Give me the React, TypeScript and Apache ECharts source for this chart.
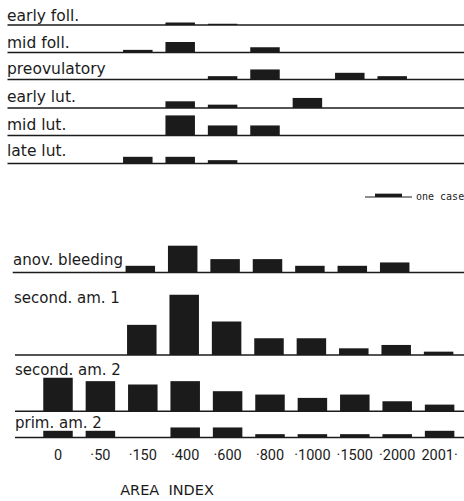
import { useEffect, useRef } from 'react';
import * as echarts from 'echarts';

// ---------- data ----------
const categories = ['0', '·50', '·150', '·400', '·600', '·800', '·1000', '·1500', '·2000', '2001·'];

const earlyFoll = [0, 0, 0, 2, 1, 0, 0, 0, 0, 0];
const midFoll = [0, 0, 1, 4, 0, 2, 0, 0, 0, 0];
const preovulatory = [0, 0, 0, 0, 1, 3, 0, 2, 1, 0];
const earlyLut = [0, 0, 0, 2, 1, 0, 3, 0, 0, 0];
const midLut = [0, 0, 0, 6, 3, 3, 0, 0, 0, 0];
const lateLut = [0, 0, 2, 2, 1, 0, 0, 0, 0, 0];
const anovBleeding = [0, 0, 2, 8, 4, 4, 2, 2, 3, 0];
const secondAm1 = [0, 0, 9, 18, 10, 5, 5, 2, 3, 1];
const secondAm2 = [10, 9, 8, 9, 6, 5, 4, 5, 3, 2];
const primAm2 = [2, 2, 0, 3, 3, 1, 1, 1, 1, 2];

const panelNames = [
  'early foll.', 'mid foll.', 'preovulatory', 'early lut.', 'mid lut.', 'late lut.',
  'anov. bleeding', 'second. am. 1', 'second. am. 2', 'prim. am. 2',
];
const panelValues = [
  earlyFoll, midFoll, preovulatory, earlyLut, midLut, lateLut,
  anovBleeding, secondAm1, secondAm2, primAm2,
];

const axisTitle = 'AREA  INDEX';
const legendText = 'one case';

// ---------- layout ----------
const W = 464;
const H = 501;
const U = 3.35; // pixels per case
const YMAX = 20;
const CAT_W = 42.4;
const FIRST_CENTER = 58;
const BAR_W = 29.5;
const INK = '#1b1b1b';

// baseline y, horizontal shift, line start x, label x, label middle y, label font size
const layout = [
  { base: 25, dx: -5, lineX: 7.5, lx: 7, ly: 15.6, fs: 15.5 },
  { base: 52.5, dx: -5, lineX: 7.5, lx: 7, ly: 43.1, fs: 15.5 },
  { base: 79.5, dx: -5, lineX: 7.5, lx: 7, ly: 68.6, fs: 15.5 },
  { base: 108, dx: -5, lineX: 7.5, lx: 7, ly: 96.9, fs: 15.5 },
  { base: 135.5, dx: -5, lineX: 7.5, lx: 7, ly: 124.6, fs: 15.5 },
  { base: 163.5, dx: -5, lineX: 7.5, lx: 7, ly: 151.3, fs: 15.5 },
  { base: 272.5, dx: -2.5, lineX: 12.7, lx: 13, ly: 259.8, fs: 15 },
  { base: 355, dx: -1, lineX: 15, lx: 14, ly: 298.1, fs: 15 },
  { base: 411.3, dx: 0, lineX: 15, lx: 15, ly: 369.8, fs: 15 },
  { base: 437.5, dx: 0, lineX: 15, lx: 15, ly: 422.8, fs: 15 },
];

export default function App() {
  const ref = useRef<HTMLDivElement>(null);

  useEffect(() => {
    if (!ref.current) return;
    const chart = echarts.init(ref.current, undefined, { renderer: 'svg' });
    const last = panelValues.length - 1;
    const gh = YMAX * U;

    const grids = layout.map((l) => {
      const left = FIRST_CENTER + l.dx - CAT_W / 2;
      return {
        left,
        width: CAT_W * categories.length,
        top: l.base - gh,
        height: gh,
        containLabel: false,
      };
    });

    const xAxes = layout.map((_, i) => ({
      type: 'category',
      gridIndex: i,
      data: categories,
      boundaryGap: true,
      show: i === last,
      axisLine: { show: false },
      axisTick: { show: false },
      splitLine: { show: false },
      axisLabel: {
        show: i === last,
        interval: 0,
        margin: 10,
        color: INK,
        fontSize: 14.5,
        fontFamily: '"Liberation Sans Narrow", Roboto, sans-serif',
      },
    }));

    const yAxes = layout.map((_, i) => ({
      type: 'value',
      gridIndex: i,
      min: 0,
      max: YMAX,
      show: false,
      splitLine: { show: false },
    }));

    const series = panelValues.map((vals, i) => ({
      type: 'bar',
      name: panelNames[i],
      xAxisIndex: i,
      yAxisIndex: i,
      data: vals.map((v) => (v > 0 ? v : '-')),
      barWidth: BAR_W,
      itemStyle: { color: INK },
      silent: true,
      z: 2,
    }));

    const graphics: any[] = [];
    layout.forEach((l, i) => {
      graphics.push({
        type: 'line',
        silent: true,
        z: 3,
        shape: { x1: l.lineX, y1: l.base, x2: W, y2: l.base },
        style: { stroke: INK, lineWidth: 1.5 },
      });
      graphics.push({
        type: 'text',
        silent: true,
        x: l.lx,
        y: l.ly,
        style: {
          text: panelNames[i],
          fill: INK,
          fontSize: l.fs,
          fontFamily: '"DejaVu Sans", sans-serif',
          align: 'left',
          verticalAlign: 'middle',
          textAlign: 'left',
          textVerticalAlign: 'middle',
        },
      });
    });

    // legend key: one case
    graphics.push({
      type: 'line',
      silent: true,
      shape: { x1: 365, y1: 197, x2: 412, y2: 197 },
      style: { stroke: INK, lineWidth: 1 },
    });
    graphics.push({
      type: 'rect',
      silent: true,
      shape: { x: 375, y: 197 - U, width: 27, height: U },
      style: { fill: INK },
    });
    graphics.push({
      type: 'text',
      silent: true,
      x: 416,
      y: 196,
      style: {
        text: legendText,
        fill: INK,
        fontSize: 10,
        fontFamily: '"DejaVu Sans Mono", monospace',
        align: 'left',
        verticalAlign: 'middle',
        textAlign: 'left',
        textVerticalAlign: 'middle',
      },
    });
    // axis title
    graphics.push({
      type: 'text',
      silent: true,
      x: 167,
      y: 490,
      style: {
        text: axisTitle,
        fill: INK,
        fontSize: 14.5,
        fontFamily: '"DejaVu Sans", sans-serif',
        align: 'center',
        verticalAlign: 'middle',
        textAlign: 'center',
        textVerticalAlign: 'middle',
      },
    });

    chart.setOption({
      animation: false,
      backgroundColor: '#ffffff',
      grid: grids,
      xAxis: xAxes,
      yAxis: yAxes,
      series,
      graphic: { elements: graphics },
    });

    return () => chart.dispose();
  }, []);

  return (
    <div
      ref={ref}
      style={{ position: 'fixed', left: 0, top: 0, width: W, height: H, background: '#fff' }}
    />
  );
}
